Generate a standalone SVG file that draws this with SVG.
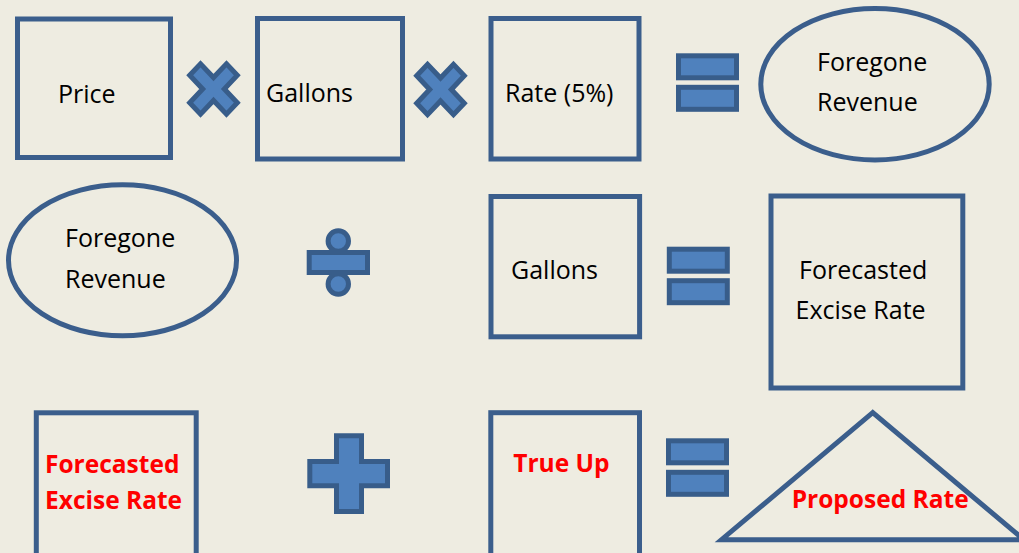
<svg xmlns="http://www.w3.org/2000/svg" width="1019" height="553" viewBox="0 0 1019 553">
<defs>
<style>
.box{fill:none;stroke:#3B5E8C;stroke-width:5}
.op{fill:#4F81BD;stroke:#385D8A;stroke-width:5;stroke-linejoin:miter}
.t{font-family:"Open Sans","Liberation Sans",sans-serif;font-size:25px;fill:#000}
.r{font-family:"Open Sans","Liberation Sans",sans-serif;font-size:24.5px;font-weight:bold;fill:#FF0000}
</style>
<polygon id="mul" points="-23.79,-13.75 -12.97,-25.2 0,-11.5 12.97,-25.2 23.79,-13.75 10.82,0 23.79,13.75 12.97,25.2 0,11.5 -12.97,25.2 -23.79,13.75 -10.82,0"/>
<g id="eq"><rect x="0" y="0" width="58" height="22"/><rect x="0" y="31.5" width="58" height="22"/></g>
</defs>
<rect width="1019" height="553" fill="#EEECE1"/>
<g id="connectors"/>
<g id="price"><rect class="box" x="17.5" y="19" width="153" height="138.5"/><text class="t" x="58" y="102.5">Price</text></g>
<g id="op-mul-1"><use href="#mul" class="op" transform="translate(213.5,89)"/></g>
<g id="gallons-1"><rect class="box" x="257.5" y="18.5" width="145" height="140.5"/><text class="t" x="266" y="101.5">Gallons</text></g>
<g id="op-mul-2"><use href="#mul" class="op" transform="translate(440.5,89.5)"/></g>
<g id="rate"><rect class="box" x="491" y="18.5" width="148" height="140.5"/><text class="t" x="505" y="101.5">Rate (5%)</text></g>
<g id="op-eq-1"><use href="#eq" class="op" transform="translate(678.5,55.8)"/></g>
<g id="foregone-1"><ellipse class="box" cx="875" cy="84.2" rx="114.2" ry="75.7"/><text class="t" x="817" y="71">Foregone</text><text class="t" x="817" y="111">Revenue</text></g>
<g id="foregone-2"><ellipse class="box" cx="122.5" cy="260.3" rx="114" ry="75.5"/><text class="t" x="65" y="246.7">Foregone</text><text class="t" x="65" y="287.7">Revenue</text></g>
<g id="op-div"><circle class="op" cx="338.3" cy="241" r="10.2"/><circle class="op" cx="338.3" cy="284" r="10.2"/><rect class="op" x="309.2" y="252.5" width="58.3" height="20"/></g>
<g id="gallons-2"><rect class="box" x="491" y="196.5" width="148.6" height="140.3"/><text class="t" x="511" y="279">Gallons</text></g>
<g id="op-eq-2"><use href="#eq" class="op" transform="translate(669.3,249.2)"/></g>
<g id="forecasted-1"><rect class="box" x="771" y="196" width="191.8" height="192"/><text class="t" x="799" y="279">Forecasted</text><text class="t" x="795.6" y="319.3">Excise Rate</text></g>
<g id="forecasted-2"><rect class="box" x="36.3" y="412.8" width="159.9" height="160"/><text class="r" x="45" y="473.3">Forecasted</text><text class="r" x="45" y="509.3">Excise Rate</text></g>
<g id="op-plus"><polygon class="op" points="336.5,435.8 361.5,435.8 361.5,461.5 387.5,461.5 387.5,485.8 361.5,485.8 361.5,511.5 336.5,511.5 336.5,485.8 309.8,485.8 309.8,461.5 336.5,461.5"/></g>
<g id="trueup"><rect class="box" x="490.8" y="412.7" width="148.7" height="160"/><text class="r" x="513.3" y="471.7">True Up</text></g>
<g id="op-eq-3"><use href="#eq" class="op" transform="translate(668.5,440.8)"/></g>
<g id="proposed"><polygon class="box" points="872.7,412.6 721.5,539.7 1023.9,539.7"/><text class="r" x="791.7" y="508.3">Proposed Rate</text></g>
</svg>
